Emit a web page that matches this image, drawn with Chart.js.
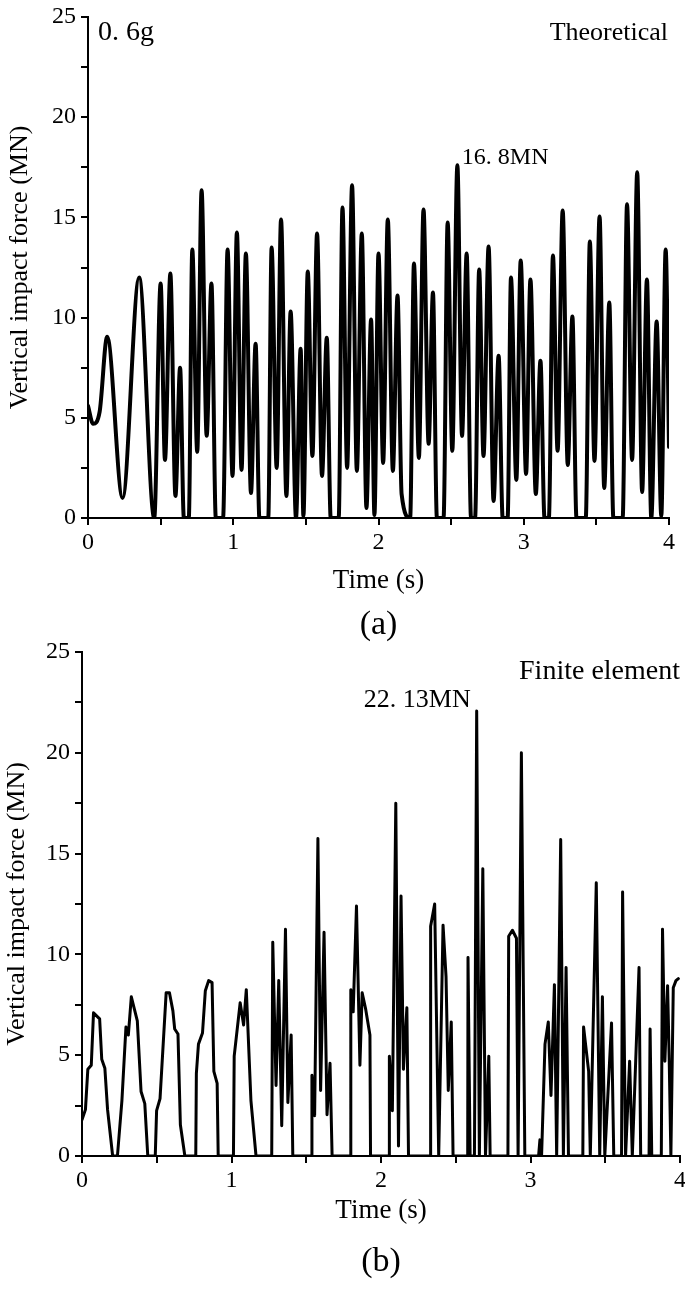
<!DOCTYPE html>
<html><head><meta charset="utf-8">
<script src="https://cdn.jsdelivr.net/npm/chart.js@4.4.1/dist/chart.umd.min.js"></script>
<style>
html,body{margin:0;padding:0;background:#fff;}
body{width:685px;height:1289px;position:relative;overflow:hidden;}
#wa{position:absolute;left:0;top:0;width:685px;height:649px;}
#wb{position:absolute;left:0;top:625px;width:692px;height:662px;}
</style></head><body>
<div id="wa"><canvas id="ca"></canvas></div>
<div id="wb"><canvas id="cb"></canvas></div>
<script>
// ---- Data: (a) Theoretical, 0.6g ----
const timeA = [0,0.035,0.08,0.132,0.238,0.352,0.456,0.500,0.530,0.567,0.602,0.634,0.660,0.694,0.718,0.752,0.782,0.817,0.850,0.880,0.93,0.961,0.995,1.025,1.057,1.087,1.122,1.154,1.18,1.241,1.264,1.299,1.329,1.366,1.395,1.432,1.464,1.483,1.513,1.545,1.577,1.611,1.644,1.671,1.726,1.752,1.784,1.818,1.851,1.885,1.917,1.949,1.972,2.0,2.032,2.064,2.099,2.131,2.159,2.218,2.244,2.278,2.310,2.345,2.375,2.402,2.448,2.476,2.508,2.543,2.575,2.607,2.637,2.665,2.693,2.723,2.758,2.792,2.827,2.855,2.889,2.912,2.949,2.979,3.016,3.046,3.083,3.115,3.143,3.173,3.201,3.233,3.268,3.303,3.335,3.363,3.427,3.455,3.487,3.522,3.554,3.589,3.617,3.681,3.711,3.746,3.781,3.815,3.848,3.878,3.915,3.947,3.977,4.0];
const forceA = [5.6,4.7,5.3,9.05,1.0,12.0,0,11.7,2.9,12.2,1.1,7.5,0,0,13.4,3.3,16.35,4.1,11.7,0,0,13.4,2.1,14.25,2.4,13.2,1.25,8.7,0,0,13.5,2.5,14.9,1.1,10.3,0,8.45,0.1,12.3,3.1,14.2,2.1,9.0,0,0,15.5,2.5,16.6,2.35,14.2,0.5,9.9,0.15,13.2,2.75,14.9,2.35,11.1,1.2,0,12.7,3.0,15.4,3.7,11.25,0,0,14.75,3.35,17.6,4.1,13.2,0,0,12.4,3.1,13.55,0.85,8.1,0,0,12.0,1.9,12.85,2.2,11.9,1.2,7.85,0,0,13.1,3.35,15.35,2.65,10.05,0,0,13.8,2.85,15.05,1.5,10.75,0,0,15.65,2.9,17.25,1.3,11.9,0,9.8,0.1,13.4,3.55];

// ---- Data: (b) Finite element ----
const timeB = [0,0.023,0.039,0.062,0.077,0.118,0.132,0.153,0.171,0.205,0.237,0.267,0.294,0.31,0.33,0.35,0.37,0.395,0.42,0.44,0.49,0.499,0.522,0.563,0.585,0.608,0.62,0.642,0.658,0.688,0.761,0.765,0.779,0.806,0.825,0.847,0.870,0.882,0.904,0.911,1.013,1.018,1.058,1.081,1.099,1.13,1.164,1.269,1.276,1.298,1.316,1.336,1.361,1.377,1.399,1.41,1.534,1.538,1.556,1.578,1.596,1.619,1.639,1.659,1.673,1.794,1.798,1.814,1.836,1.859,1.874,1.897,1.926,1.93,2.054,2.056,2.076,2.099,2.117,2.134,2.15,2.173,2.184,2.33,2.332,2.359,2.386,2.415,2.435,2.45,2.47,2.482,2.58,2.582,2.596,2.625,2.64,2.658,2.681,2.699,2.721,2.73,2.849,2.854,2.879,2.906,2.917,2.939,2.962,3.054,3.063,3.074,3.097,3.119,3.137,3.16,3.175,3.202,3.22,3.238,3.254,3.35,3.355,3.389,3.4,3.44,3.463,3.481,3.497,3.542,3.557,3.609,3.616,3.636,3.663,3.681,3.726,3.737,3.793,3.8,3.811,3.875,3.883,3.899,3.917,3.928,3.939,3.955,3.973,3.989];
const forceB = [1.8,2.3,4.3,4.5,7.1,6.8,4.8,4.35,2.3,0,0,2.75,6.4,6.0,7.9,7.3,6.7,3.2,2.6,0,0,2.25,2.85,8.1,8.1,7.2,6.3,6.05,1.55,0,0,4.1,5.55,6.1,8.2,8.7,8.6,4.2,3.6,0,0,4.95,7.6,6.5,8.25,2.75,0,0,10.6,3.5,8.7,1.5,11.25,2.65,6.0,0,0,4.0,2.0,15.75,3.25,11.1,2.05,4.6,0,0,8.25,7.15,12.4,4.5,8.1,7.3,6.0,0,0,4.95,2.25,17.5,0.5,12.9,4.3,7.35,0,0,11.4,12.5,0,11.45,8.9,3.25,6.65,0,0,9.85,0,0,22.07,0,14.25,0,4.95,0,0,10.9,11.2,10.8,0,20.0,0,0,0.8,0,5.55,6.65,3.0,8.5,0,15.7,0,9.35,0,0,6.4,4.2,0,13.55,0,7.9,0,6.6,0,0,13.1,0,4.7,0,9.35,0,0,6.3,0,0,11.25,4.7,8.45,4.7,0,8.35,8.7,8.8];

// ---- Axis ticks / labels ----
const xMajorTicks = [0,1,2,3,4];
const yMajorTicks = [0,5,10,15,20,25];
const xTitle = 'Time (s)';
const yTitle = 'Vertical impact force (MN)';

const FONT = '"Liberation Serif", "DejaVu Serif", serif';

const labelPlugin = {
  id: 'textLabels',
  afterDatasetsDraw(chart, args, opts) {
    const ctx = chart.ctx, xs = chart.scales.x, ys = chart.scales.y, ca = chart.chartArea;
    ctx.save();
    ctx.fillStyle = '#000';
    ctx.textBaseline = 'middle';
    (opts.items || []).forEach(it => {
      ctx.font = it.size + 'px ' + FONT;
      ctx.textAlign = it.align;
      let x, y;
      if (it.below !== undefined) {
        x = (ca.left + ca.right) / 2;
        y = ca.bottom + it.below;
      } else {
        x = (it.t !== undefined) ? xs.getPixelForValue(it.t) : (it.align === 'left' ? ca.left + it.dx : ca.right + it.dx);
        y = (it.v !== undefined) ? ys.getPixelForValue(it.v) : ca.top + it.dy;
      }
      ctx.fillText(it.text, x, y);
    });
    ctx.restore();
  }
};

function makeConfig(times, forces, o) {
  const pts = times.map((t, i) => ({x: t, y: forces[i]}));
  return {
    type: 'line',
    data: { datasets: [{
      data: pts,
      borderColor: '#000',
      borderWidth: o.lw,
      pointRadius: 0,
      fill: false,
      tension: o.smooth ? 0.4 : 0,
      cubicInterpolationMode: o.smooth ? 'monotone' : 'default',
      borderCapStyle: 'round',
      borderJoinStyle: 'round'
    }]},
    options: {
      responsive: true,
      maintainAspectRatio: false,
      animation: false,
      layout: { padding: { left: 0, right: o.padRight, top: o.padTop, bottom: o.padBottom } },
      plugins: {
        legend: { display: false },
        tooltip: { enabled: false },
        title: { display: false },
        textLabels: { items: o.items }
      },
      scales: {
        x: {
          type: 'linear', min: 0, max: 4,
          afterFit: s => { s.height = o.xh; },
          border: { display: true, color: '#000', width: 2 },
          grid: { display: true, drawOnChartArea: false, drawTicks: true, tickLength: 7, color: '#000', lineWidth: 2 },
          ticks: { stepSize: 0.5, autoSkip: false, maxRotation: 0, padding: 6, color: '#000',
                   font: { family: FONT, size: 24, lineHeight: 1 },
                   callback: v => xMajorTicks.includes(v) ? String(v) : '' },
          title: { display: true, text: xTitle, color: '#000', font: { family: FONT, size: 27 }, padding: { top: 0, bottom: 3 } }
        },
        y: {
          type: 'linear', min: 0, max: 25,
          afterFit: s => { s.width = o.yw; },
          border: { display: true, color: '#000', width: 2 },
          grid: { display: true, drawOnChartArea: false, drawTicks: true, tickLength: 7, color: '#000', lineWidth: 2 },
          ticks: { stepSize: 2.5, autoSkip: false, padding: 5, color: '#000',
                   font: { family: FONT, size: 24, lineHeight: 1 },
                   callback: v => yMajorTicks.includes(v) ? String(v) : '' },
          title: { display: true, text: yTitle, color: '#000', font: { family: FONT, size: 26 }, padding: { top: o.ytPad, bottom: 0 } }
        }
      }
    },
    plugins: [labelPlugin]
  };
}

new Chart(document.getElementById('ca'), makeConfig(timeA, forceA, {
  lw: 4, smooth: true, padRight: 16, padTop: 12, padBottom: 49, xh: 82, yw: 88, ytPad: 5,
  items: [
    { text: '0. 6g', align: 'left', dx: 10, dy: 16, size: 28 },
    { text: 'Theoretical', align: 'right', dx: -1, dy: 16, size: 26 },
    { text: '16. 8MN', align: 'left', t: 2.574, v: 18.0, size: 24 },
    { text: '(a)', align: 'center', below: 107, size: 34 }
  ]
}));

new Chart(document.getElementById('cb'), makeConfig(timeB, forceB, {
  lw: 3, smooth: false, padRight: 0, padTop: 27, padBottom: 57, xh: 74, yw: 82, ytPad: 2,
  items: [
    { text: 'Finite element', align: 'right', dx: 0, dy: 20, size: 28 },
    { text: '22. 13MN', align: 'right', t: 2.60, v: 22.6, size: 26 },
    { text: '(b)', align: 'center', below: 106, size: 34 }
  ]
}));
</script>
</body></html>
